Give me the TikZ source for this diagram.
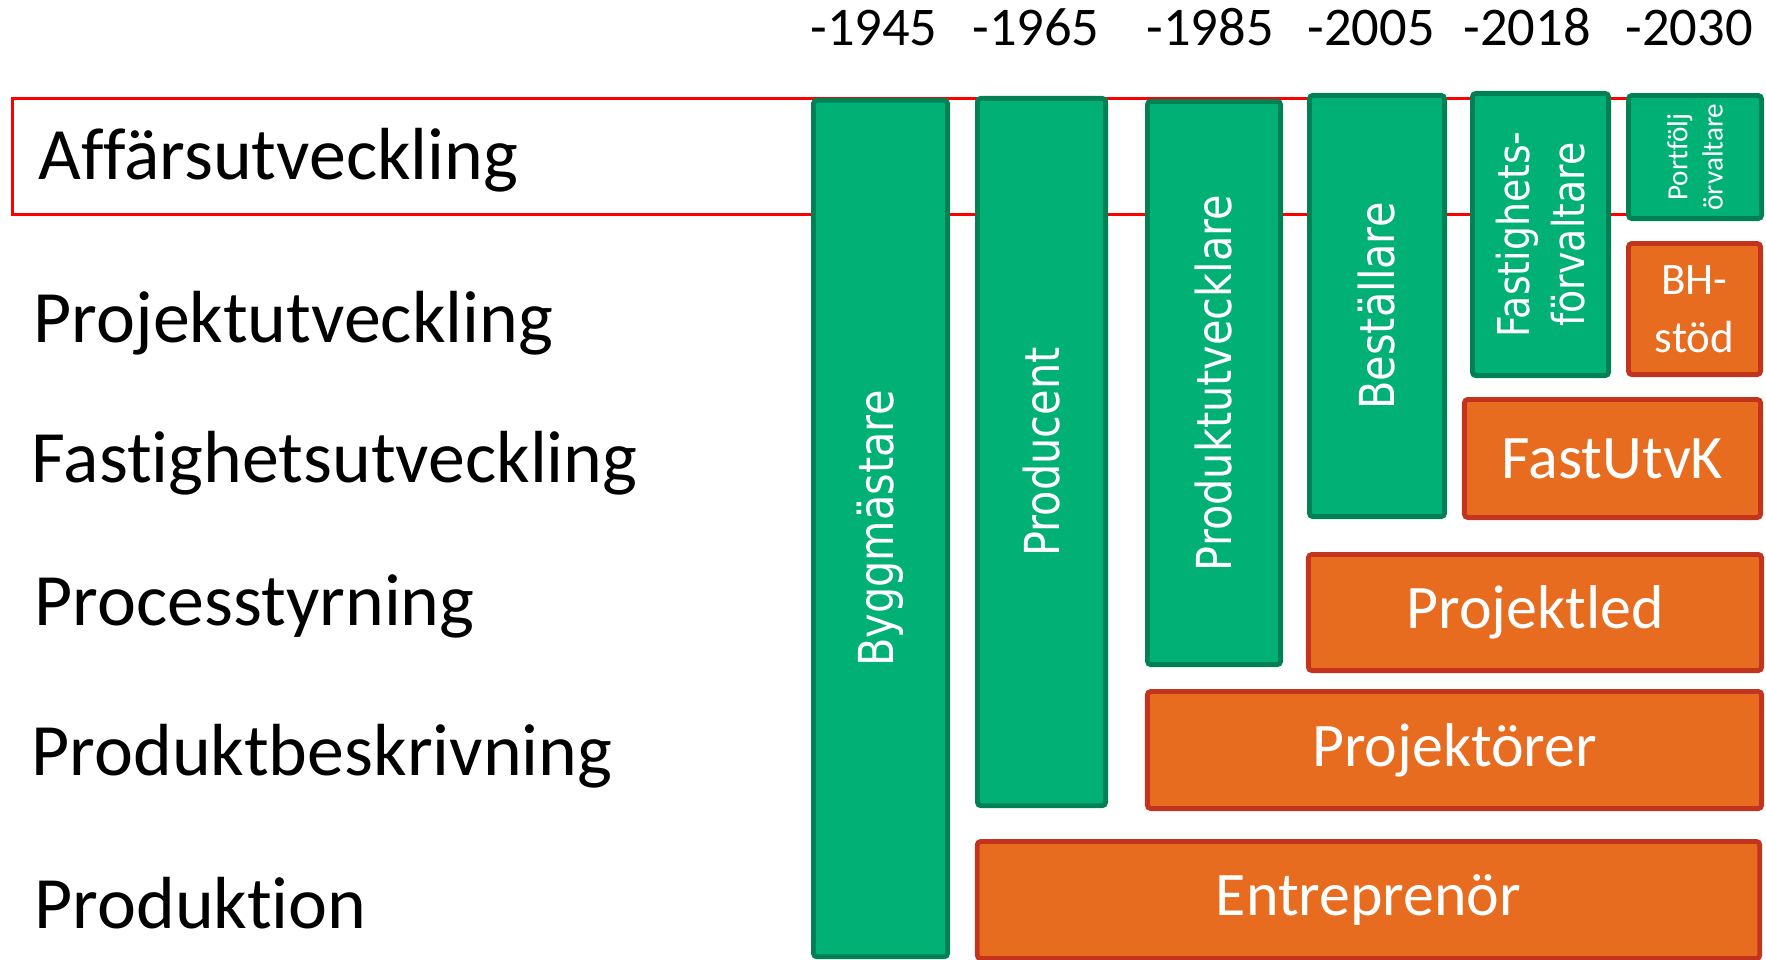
\documentclass[tikz,border=0pt]{standalone}
\usepackage{fontspec}
\setmainfont{Carlito}[Ligatures={NoCommon,NoRequired,NoContextual,NoRare}]
\newfontfamily\rolefont[FakeStretch=0.86]{DejaVu Sans}
\usetikzlibrary{positioning}
\definecolor{rolegreen}{RGB}{0,176,116}
\definecolor{roleedge}{RGB}{0,128,84}
\definecolor{taskorange}{RGB}{232,108,32}
\definecolor{taskedge}{RGB}{194,52,30}
\definecolor{framered}{RGB}{255,0,0}
\tikzset{
    rolebox/.style={draw=roleedge, fill=rolegreen, line width=1.4pt, rounded corners=1pt, inner sep=0pt},
    taskbox/.style={draw=taskedge, fill=taskorange, line width=1.4pt, rounded corners=1pt, inner sep=0pt, text=white, font=\fontsize{17.6}{20}\selectfont},
    role label/.style={rotate=90, text=white, align=center, inner sep=0pt, font=\rolefont\fontsize{13.7}{16}\selectfont},
    phase label/.style={anchor=base west, inner sep=0pt, font=\fontsize{21}{24}\selectfont},
    year label/.style={anchor=base, inner sep=0pt, font=\fontsize{15.5}{18}\selectfont},
    rowframe/.style={draw=framered, line width=0.85pt}
}

\begin{document}
\begin{tikzpicture}[x=0.01cm, y=-0.01cm]
    \useasboundingbox (0,0) rectangle (1766,959);
    \clip (0,0) rectangle (1766,959);

    % --- Frame for the first row ---
    \draw[rowframe] (12.5,98.5) rectangle (1760,214.5);

    % --- Phase labels ---
    \node (affar) [phase label] at (38,179) {Affärsutveckling};
    \node (projutv) [phase label] at (33,342) {Projektutveckling};
    \node (fastutv) [phase label] at (31,482) {Fast\kern0pt ighetsutveckling};
    \node (process) [phase label] at (34,625) {Processtyrning};
    \node (beskr) [phase label] at (31,775) {Produktbeskrivning};
    \node (produktion) [phase label] at (34,928) {Produkt\kern0pt ion};

    % --- Years ---
    \node (y1945) [year label] at (874,45) {-1945};
    \node (y1965) [year label] at (1036,45) {-1965};
    \node (y1985) [year label] at (1210,45) {-1985};
    \node (y2005) [year label] at (1371,45) {-2005};
    \node (y2018) [year label] at (1527,45) {-2018};
    \node (y2030) [year label] at (1689,45) {-2030};

    % --- Roles (green) ---
    \node (bygg) [rolebox, minimum width=1.34cm, minimum height=8.56cm] at (880.5,528.5) {};
    \node[role label] at (bygg) {Byggmästare};
    \node (prod) [rolebox, minimum width=1.28cm, minimum height=7.07cm] at (1041.5,452) {};
    \node[role label] at (prod) {Producent};
    \node (produtv) [rolebox, minimum width=1.33cm, minimum height=5.63cm] at (1214,383) {};
    \node[role label] at (produtv) {Produktutvecklare};
    \node (best) [rolebox, minimum width=1.35cm, minimum height=4.21cm] at (1377,306) {};
    \node[role label] at (best) {Beställare};
    \node (fastf) [rolebox, minimum width=1.36cm, minimum height=2.82cm] at (1540.5,234.5) {};
    \node[role label, font=\rolefont\fontsize{12.5}{15.6}\selectfont] at (fastf) {Fastighets-\\förvaltare};
    \node (portf) [rolebox, minimum width=1.33cm, minimum height=1.23cm] at (1695,157) {};
    \node[role label, font=\fontsize{8.3}{10}\selectfont] at (portf) {Portfölj\\örvaltare};

    % --- Tasks (orange) ---
    \node (bhstod) [taskbox, minimum width=1.32cm, minimum height=1.31cm, align=center, font=\fontsize{12.8}{16.5}\selectfont] at (1694.5,309) {BH-\\stöd};
    \node (fastutvk) [taskbox, minimum width=2.96cm, minimum height=1.18cm] at (1612.5,458.5) {FastUtvK};
    \node (projled) [taskbox, minimum width=4.53cm, minimum height=1.16cm] at (1535,612.5) {Projektled};
    \node (projor) [taskbox, minimum width=6.14cm, minimum height=1.17cm] at (1454.5,750) {Projektörer};
    \node (entre) [taskbox, minimum width=7.82cm, minimum height=1.17cm] at (1368.5,900) {Entreprenör};
\end{tikzpicture}
\end{document}
